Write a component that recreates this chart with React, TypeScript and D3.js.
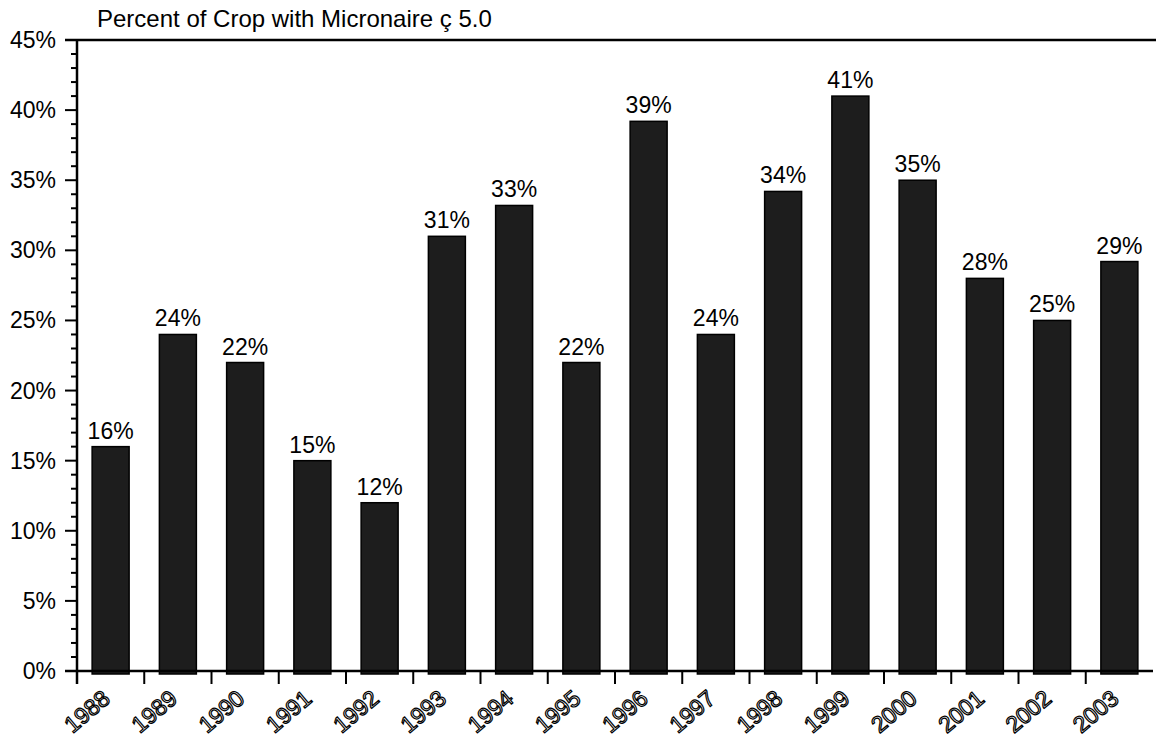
import React from 'react';
import * as d3 from 'd3';

const years = ['1988', '1989', '1990', '1991', '1992', '1993', '1994', '1995', '1996', '1997', '1998', '1999', '2000', '2001', '2002', '2003'];
const values = [16, 24, 22, 15, 12, 31, 33.2, 22, 39.2, 24, 34.2, 41, 35, 28, 25, 29.2];
const labels = ['16%', '24%', '22%', '15%', '12%', '31%', '33%', '22%', '39%', '24%', '34%', '41%', '35%', '28%', '25%', '29%'];
const yTicks = [0, 5, 10, 15, 20, 25, 30, 35, 40, 45];
const title = 'Percent of Crop with Micronaire ç 5.0';

const W = 1156;
const H = 744;
const left = 77;
const right = 1153;
const top = 40;
const bottom = 671;
const font = 'Liberation Sans, Arial, Helvetica, sans-serif';

const App: React.FC = () => {
    const x = d3.scaleBand().domain(years).range([left, right]).paddingInner(0.45).paddingOuter(0.225);
    const step = x.step();
    const y = d3.scaleLinear().domain([0, 45]).range([bottom, top]);
    const minor = d3.range(0, 46, 1).filter(v => v % 5 !== 0);

    return (
        <svg width={W} height={H} style={{ position: 'absolute', left: 0, top: 0, background: 'white' }}
            fontFamily={font}>
            <text x={97} y={27} fontSize={24} fill="#000">{title}</text>

            {/* bars */}
            {years.map((yr, i) => (
                <rect key={yr} x={x(yr)} y={y(values[i])} width={x.bandwidth()} height={bottom - y(values[i]) + 3}
                    fill="#1d1d1d" stroke="#000" strokeWidth={1.5} />
            ))}
            {years.map((yr, i) => (
                <text key={'l' + yr} x={(x(yr) as number) + x.bandwidth() / 2} y={y(values[i]) - 8}
                    textAnchor="middle" fontSize={23} fill="#000">{labels[i]}</text>
            ))}

            {/* axes */}
            <line x1={65} x2={W} y1={top} y2={top} stroke="#000" strokeWidth={2.5} />
            <line x1={65} x2={right} y1={bottom} y2={bottom} stroke="#000" strokeWidth={2.5} />
            <line x1={left} x2={left} y1={top} y2={bottom + 13} stroke="#000" strokeWidth={2.5} />
            {yTicks.map(t => (
                <g key={t}>
                    <line x1={65} x2={left} y1={y(t)} y2={y(t)} stroke="#000" strokeWidth={2} />
                    <text x={56} y={y(t) + 8} textAnchor="end" fontSize={23} fill="#000">{t}%</text>
                </g>
            ))}
            {minor.map(t => (
                <line key={'m' + t} x1={71} x2={left} y1={y(t)} y2={y(t)} stroke="#000" strokeWidth={2} />
            ))}
            {years.map((yr, i) => i === 0 ? null : (
                <line key={'t' + yr} x1={left + step * i} x2={left + step * i} y1={bottom} y2={bottom + 13}
                    stroke="#000" strokeWidth={2} />
            ))}
            {years.map(yr => {
                const cx = (x(yr) as number) + x.bandwidth() / 2 + 1;
                return (
                    <text key={'x' + yr} transform={`translate(${cx},${701}) rotate(-40)`} textAnchor="end"
                        fontSize={23} fill="#fff" stroke="#000" strokeWidth={1.2}>{yr}</text>
                );
            })}
        </svg>
    );
};

export default App;
